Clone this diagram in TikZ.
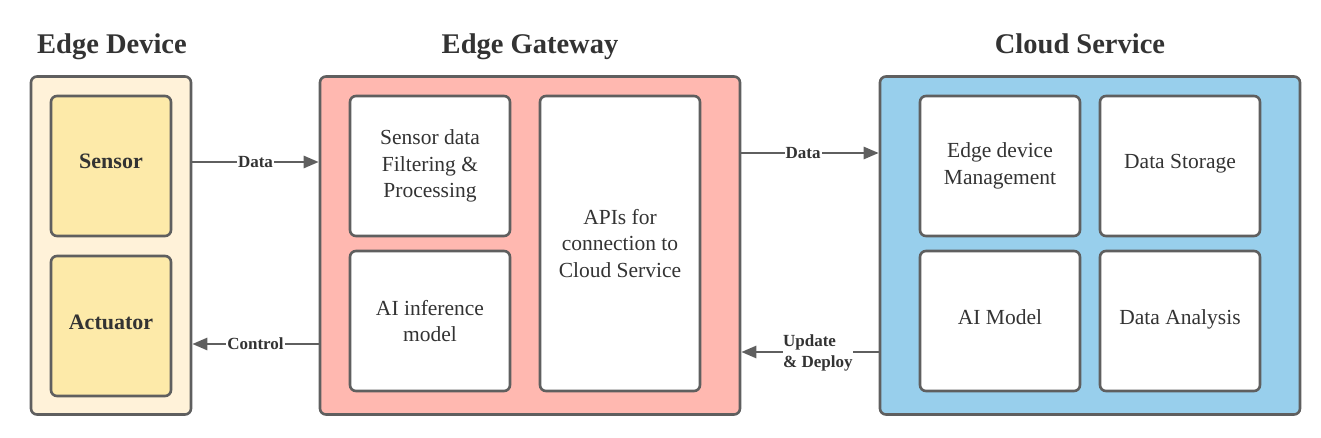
\documentclass[tikz,border=0pt]{standalone}
\usepackage{fontspec}
\setmainfont{Liberation Serif}
\usetikzlibrary{arrows.meta,positioning}
\definecolor{bordc}{HTML}{5F5F5F}
\definecolor{txtc}{HTML}{333333}
\definecolor{creamc}{HTML}{FFF2D9}
\definecolor{yellc}{HTML}{FDEAA9}
\definecolor{pinkc}{HTML}{FFB8B0}
\definecolor{bluec}{HTML}{98CFEC}
\tikzset{
  box/.style={draw=bordc, line width=2.6pt, rounded corners=6pt, inner sep=0pt, text=txtc},
  outerbox/.style={box, minimum height=338pt},
  innerbox/.style={box, minimum width=159pt, font=\fontsize{21.5}{26.5}\selectfont, align=center},
  oneline/.style={text height=16pt, text depth=10pt},
  title/.style={font=\bfseries\fontsize{28.5}{32}\selectfont, text=txtc, anchor=base},
  arr/.style={draw=bordc, line width=2.6pt, -{Triangle[length=15pt,width=12pt]}},
  lbl/.style={fill=white, inner sep=1pt, text=txtc, font=\bfseries\fontsize{17}{21}\selectfont}
}
\begin{document}
\begin{tikzpicture}[x=1pt,y=-1pt]
\useasboundingbox (0,0) rectangle (1321,438);
% titles
\node[title] (t1) at (112,54) {Edge Device};
\node[title] (t2) at (530,54) {Edge Gateway};
\node[title] (t3) at (1080,54) {Cloud Service};
% outer boxes
\node[outerbox, fill=creamc, minimum width=160pt] (ed) at (111,245.5) {};
\node[outerbox, fill=pinkc, minimum width=420pt] (gw) at (530,245.5) {};
\node[outerbox, fill=bluec, minimum width=420pt] (cs) at (1090,245.5) {};
% edge device
\node[innerbox, oneline, fill=yellc, minimum width=120pt, minimum height=140pt, font=\bfseries\fontsize{22}{26}\selectfont] (sen) at (111,166) {Sensor};
\node[innerbox, oneline, fill=yellc, minimum width=120pt, minimum height=140pt, font=\bfseries\fontsize{22}{26}\selectfont] (act) at (111,326) {Actuator};
% gateway
\node[innerbox, fill=white, minimum width=160pt, minimum height=140pt] (sdf) at (430,166) {Sensor data\\Filtering \&\\Processing};
\node[innerbox, fill=white, minimum width=160pt, minimum height=140pt] (aii) at (430,321) {AI inference\\model};
\node[innerbox, fill=white, minimum width=160pt, minimum height=295pt] (api) at (620,243.5) {APIs for\\connection to\\Cloud Service};
% cloud
\node[innerbox, fill=white, minimum width=160pt, minimum height=140pt] (edm) at (1000,166) {Edge device\\Management};
\node[innerbox, oneline, fill=white, minimum width=160pt, minimum height=140pt] (dst) at (1180,166) {Data Storage};
\node[innerbox, oneline, fill=white, minimum width=160pt, minimum height=140pt] (aim) at (1000,321) {AI Model};
\node[innerbox, oneline, fill=white, minimum width=160pt, minimum height=140pt] (dan) at (1180,321) {Data Analysis};
% connectors
\coordinate (y1) at (0,162);
\coordinate (y2) at (0,344);
\coordinate (y3) at (0,153);
\coordinate (y4) at (0,352);
\draw[arr] (ed.east |- y1) -- node[lbl, pos=0.5] {Data} (gw.west |- y1);
\draw[arr] (gw.west |- y2) -- node[lbl, pos=0.5] {Control} (ed.east |- y2);
\draw[arr] (gw.east |- y3) -- node[lbl, pos=0.45] {Data} (cs.west |- y3);
\draw[arr] (cs.west |- y4) -- node[lbl, pos=0.443, align=left, inner xsep=0pt, inner ysep=2pt, yshift=-1pt] {Update\\\& Deploy} (gw.east |- y4);
\end{tikzpicture}
\end{document}
